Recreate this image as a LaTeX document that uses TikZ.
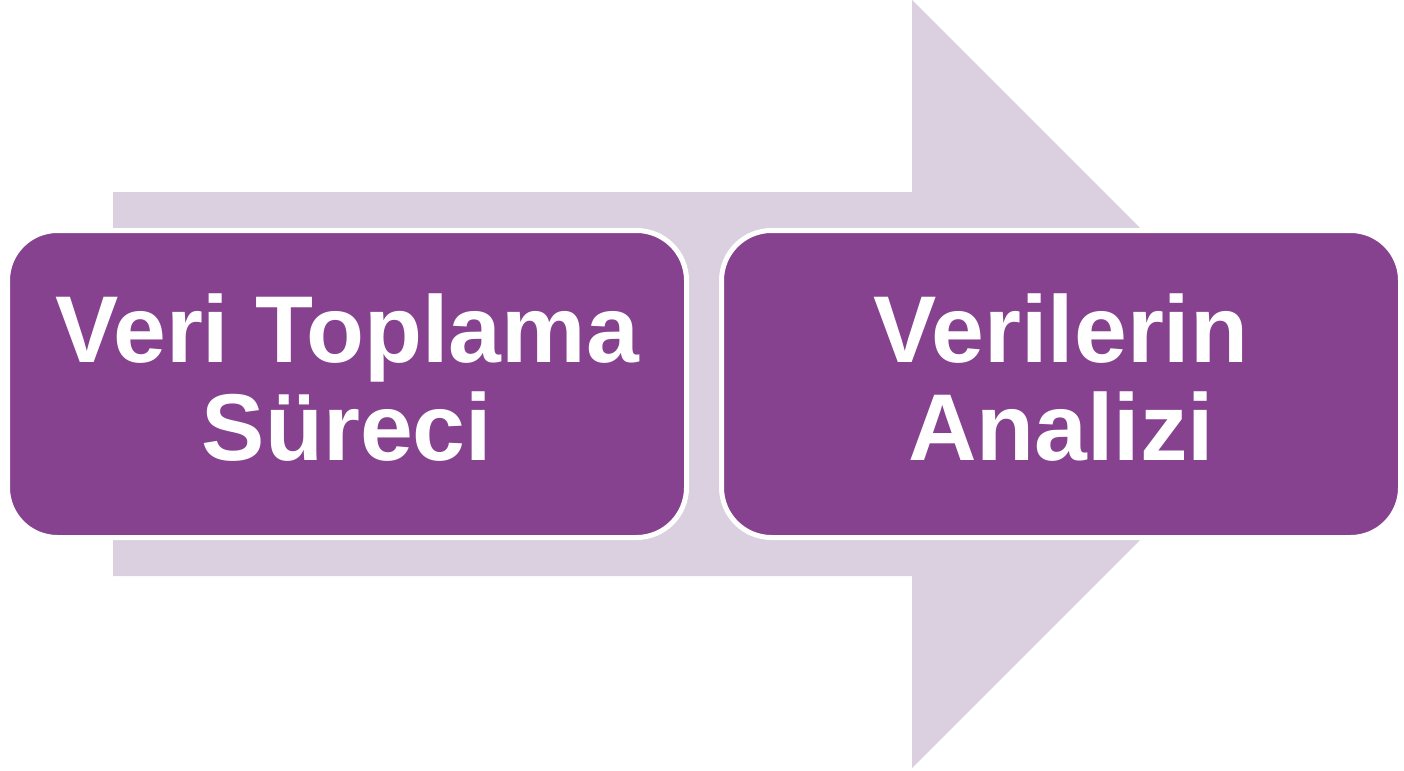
\documentclass[tikz,border=0pt]{standalone}
\usepackage{fontspec}
\setmainfont{Liberation Sans}
\usepackage{xcolor}
\usetikzlibrary{positioning}
\definecolor{stepPurple}{HTML}{86418F}
\definecolor{arrowLilac}{HTML}{DAD0DF}

\begin{document}
\begin{tikzpicture}[
        stepbox/.style={rectangle, rounded corners=0.5cm, draw=white, line width=0.05cm,
                fill=stepPurple, text=white, align=center, inner sep=0pt,
                font=\fontsize{27}{28}\selectfont\bfseries, text depth=0.14cm,
                minimum width=6.79cm, minimum height=3.07cm}
        ]
        \useasboundingbox (0,0) rectangle (14.04,7.70);

        % background arrow
        \fill[arrowLilac] (1.13,5.78) -- (9.12,5.78) -- (9.12,7.70) -- (12.96,3.86)
                -- (9.12,0.02) -- (9.12,1.94) -- (1.13,1.94) -- cycle;

        % steps
        \node[stepbox] (collect) at (3.47,3.86) {Veri Toplama\\Süreci};
        \node[stepbox] (analyse) at (10.61,3.86) {Verilerin\\Analizi};
    \end{tikzpicture}
\end{document}
